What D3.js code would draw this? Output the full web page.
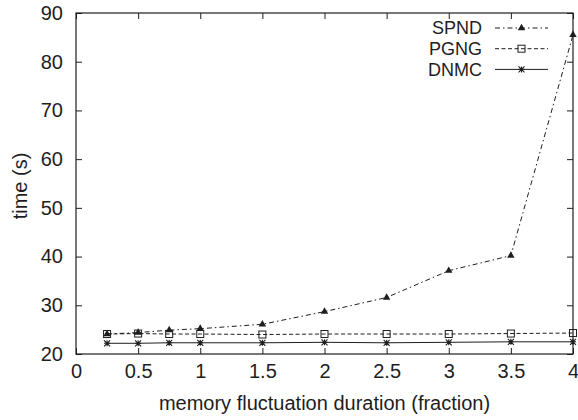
<!DOCTYPE html>
<html>
<head>
<meta charset="utf-8">
<script src="https://cdn.jsdelivr.net/npm/d3@7"></script>
<style>
  html, body { margin: 0; padding: 0; background: #fff; }
  svg { display: block; font-family: "Liberation Sans", Arial, Helvetica, sans-serif; }
</style>
</head>
<body>
<svg id="chart" width="578" height="420"></svg>
<script>
const xValues = [0.25, 0.5, 0.75, 1, 1.5, 2, 2.5, 3, 3.5, 4];
const spnd = [24.1, 24.4, 24.9, 25.2, 26.1, 28.7, 31.6, 37.1, 40.2, 85.5];
const pgng = [24.1, 24.2, 24.1, 24.1, 24.0, 24.1, 24.1, 24.1, 24.2, 24.3];
const dnmc = [22.2, 22.2, 22.3, 22.3, 22.3, 22.4, 22.3, 22.4, 22.5, 22.5];
const seriesNames = ["SPND", "PGNG", "DNMC"];
const xTicks = [0, 0.5, 1, 1.5, 2, 2.5, 3, 3.5, 4];
const yTicks = [20, 30, 40, 50, 60, 70, 80, 90];
const xTitle = "memory fluctuation duration (fraction)";
const yTitle = "time (s)";

const svg = d3.select("#chart");
const margin = {left: 76, right: 5, top: 13, bottom: 66};
const W = 578, H = 420;
const x = d3.scaleLinear().domain([0, 4]).range([margin.left, W - margin.right]);
const y = d3.scaleLinear().domain([20, 90]).range([H - margin.bottom, margin.top]);
const ink = "#1e1e1e";
const fs = 20;

// ticks inside on all four sides
const tl = 6;
const gx = svg.append("g").attr("transform", `translate(0,${y(20)})`)
  .call(d3.axisBottom(x).tickValues(xTicks).tickSize(-tl).tickPadding(10).tickFormat(d3.format("")));
const gxt = svg.append("g").attr("transform", `translate(0,${y(90)})`)
  .call(d3.axisTop(x).tickValues(xTicks).tickSize(-tl).tickFormat(""));
const gy = svg.append("g").attr("transform", `translate(${x(0)},0)`)
  .call(d3.axisLeft(y).tickValues(yTicks).tickSize(-tl).tickPadding(13));
const gyr = svg.append("g").attr("transform", `translate(${x(4)},0)`)
  .call(d3.axisRight(y).tickValues(yTicks).tickSize(-tl).tickFormat(""));
[gx, gxt, gy, gyr].forEach(g => {
  g.select(".domain").remove();
  g.selectAll(".tick line").attr("stroke", ink).attr("stroke-width", 1);
  g.selectAll("text").attr("fill", ink).attr("font-size", fs)
    .attr("font-family", "Liberation Sans, Arial, sans-serif");
});
svg.append("rect").attr("x", x(0)).attr("y", y(90))
  .attr("width", x(4) - x(0)).attr("height", y(20) - y(90))
  .attr("fill", "none").attr("stroke", ink).attr("stroke-width", 1.2);

// axis titles
svg.append("text").attr("x", (x(0) + x(4)) / 2).attr("y", 410)
  .attr("text-anchor", "middle").attr("font-size", fs).attr("fill", ink).text(xTitle);
svg.append("text").attr("transform", `translate(27,186) rotate(-90)`)
  .attr("text-anchor", "middle").attr("font-size", fs).attr("fill", ink).text(yTitle);

const series = [
  {name: seriesNames[0], vals: spnd, dash: "5,3,1.5,3", marker: "tri"},
  {name: seriesNames[1], vals: pgng, dash: "4,2.5", marker: "sq"},
  {name: seriesNames[2], vals: dnmc, dash: null, marker: "ast"}
];

function drawMarker(g, type, cx, cy) {
  if (type === "tri") {
    g.append("path").attr("d", d3.symbol(d3.symbolTriangle, 24)())
      .attr("transform", `translate(${cx},${cy})`).attr("fill", ink);
  } else if (type === "sq") {
    g.append("rect").attr("x", cx - 3.5).attr("y", cy - 3.5).attr("width", 7).attr("height", 7)
      .attr("fill", "none").attr("stroke", ink).attr("stroke-width", 1);
  } else {
    const r = 3;
    g.append("path").attr("d",
      `M${cx - r},${cy}H${cx + r}M${cx},${cy - r}V${cy + r}M${cx - r},${cy - r}L${cx + r},${cy + r}M${cx - r},${cy + r}L${cx + r},${cy - r}`)
      .attr("stroke", ink).attr("stroke-width", 1.1);
  }
}

const line = d3.line().x(d => x(d[0])).y(d => y(d[1]));
series.forEach(s => {
  const pts = xValues.map((v, i) => [v, s.vals[i]]);
  svg.append("path").datum(pts).attr("d", line)
    .attr("fill", "none").attr("stroke", ink).attr("stroke-width", 1)
    .attr("stroke-dasharray", s.dash);
  const g = svg.append("g");
  pts.forEach(p => drawMarker(g, s.marker, x(p[0]), y(p[1])));
});

// legend
const lgX1 = 495, lgX2 = 548, lgTextX = 482;
series.forEach((s, i) => {
  const cy = 28 + i * 20.7;
  svg.append("text").attr("x", lgTextX).attr("y", cy).attr("dy", "0.36em")
    .attr("text-anchor", "end").attr("font-size", 18).attr("fill", ink).text(s.name);
  svg.append("line").attr("x1", lgX1).attr("x2", lgX2).attr("y1", cy).attr("y2", cy)
    .attr("stroke", ink).attr("stroke-width", 1).attr("stroke-dasharray", s.dash);
  const g = svg.append("g");
  drawMarker(g, s.marker, (lgX1 + lgX2) / 2, cy);
});
</script>
</body>
</html>
